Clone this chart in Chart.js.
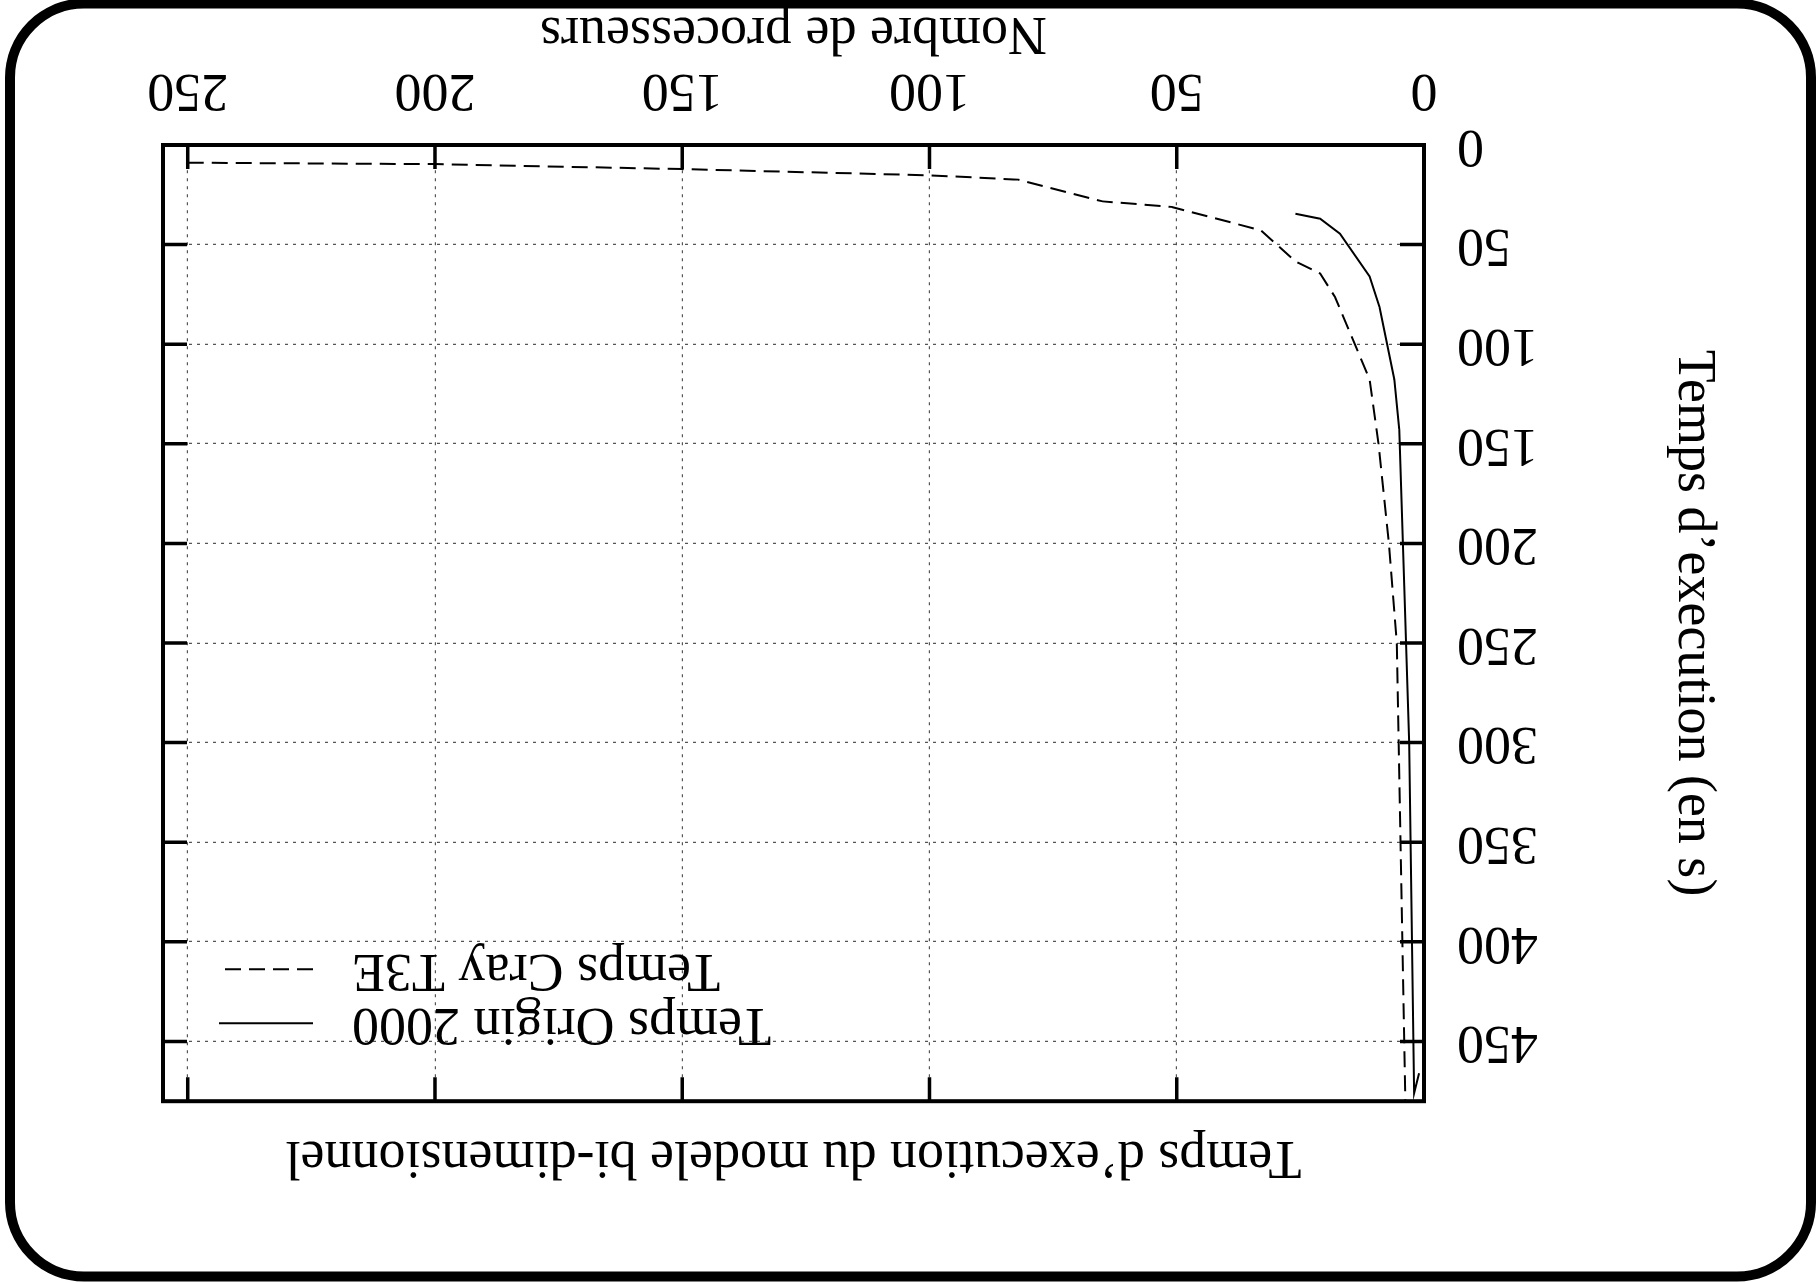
<!DOCTYPE html>
<html>
<head>
<meta charset="utf-8">
<title>Temps d'execution</title>
<script src="https://cdn.jsdelivr.net/npm/chart.js"></script>
<style>
    html, body { margin: 0; padding: 0; background: #fff; overflow: hidden; }
    /* the original figure is printed upside down */
    #wrap { width: 1817px; height: 1283px; transform: rotate(180deg); }
</style>
</head>
<body>
<div id="wrap"><canvas id="myChart" width="1817" height="1283"></canvas></div>
<script>
// values
const crayLabel = "Temps Cray T3E"
const crayProcs = [250, 200, 150, 100, 82, 65, 51, 33, 26, 21, 18, 11, 9.2, 7.1, 5.5, 3]
const crayTimes = [8.9, 9.6, 12.1, 15.2, 17.4, 28.3, 31.1, 42.8, 58.4, 64.5, 76.3, 117.7, 150, 200, 250, 583]

const originLabel = "Temps Origin 2000"
const originProcs = [26, 21, 17, 11, 9, 6, 5, 4, 3, 2, 1]
const originTimes = [34.5, 37.0, 44.5, 66, 81.3, 117.7, 143, 221, 300, 476, 466]

const xTicksStep = 50
const yTicksStep = 50

const titleText = "Temps d\u2019execution du modele bi-dimensionnel"
const xTitle = "Nombre de processeurs"
const yTitle = "Temps d\u2019execution (en s)"

const FONT = "'Liberation Serif', 'Times New Roman', serif"

const toPoints = (xs, ys) => xs.map((x, i) => ({ x: x, y: ys[i] }))

// rounded box around the whole page
const paperFrame = {
    id: 'paperFrame',
    beforeDraw(chart) {
        const ctx = chart.ctx
        ctx.save()
        ctx.fillStyle = '#fff'
        ctx.fillRect(0, 0, chart.width, chart.height)
        ctx.lineWidth = 10
        ctx.strokeStyle = '#000'
        ctx.beginPath()
        ctx.roundRect(6, 6.5, 1801, 1273, 74)
        ctx.stroke()
        ctx.restore()
    }
}

// gnuplot style border with inward ticks on the four sides
const plotBorder = {
    id: 'plotBorder',
    afterDatasetsDraw(chart) {
        const { ctx, chartArea: a, scales } = chart
        const len = 24
        ctx.save()
        ctx.strokeStyle = '#000'
        ctx.lineWidth = 3.5
        ctx.setLineDash([])
        ctx.beginPath()
        scales.x.ticks.forEach(t => {
            const px = scales.x.getPixelForValue(t.value)
            ctx.moveTo(px, a.bottom); ctx.lineTo(px, a.bottom - len)
            ctx.moveTo(px, a.top); ctx.lineTo(px, a.top + len)
        })
        scales.y.ticks.forEach(t => {
            const py = scales.y.getPixelForValue(t.value)
            ctx.moveTo(a.left, py); ctx.lineTo(a.left + len, py)
            ctx.moveTo(a.right, py); ctx.lineTo(a.right - len, py)
        })
        ctx.stroke()
        ctx.lineWidth = 4
        ctx.strokeRect(a.left, a.top, a.right - a.left, a.bottom - a.top)
        ctx.restore()
    }
}

// key in the upper right corner, text first then sample line
const gnuKey = {
    id: 'gnuKey',
    afterDraw(chart) {
        const { ctx, chartArea: a } = chart
        ctx.save()
        ctx.font = "54px " + FONT
        ctx.textAlign = 'right'
        ctx.textBaseline = 'middle'
        ctx.fillStyle = '#000'
        chart.data.datasets.forEach((ds, i) => {
            const y = a.top + 78 + i * 54
            ctx.fillText(ds.label, a.right - 189, y)
            ctx.strokeStyle = ds.borderColor
            ctx.lineWidth = ds.borderWidth
            ctx.setLineDash(ds.borderDash || [])
            ctx.beginPath()
            ctx.moveTo(a.right - 150, y)
            ctx.lineTo(a.right - 56, y)
            ctx.stroke()
        })
        ctx.restore()
    }
}

Chart.defaults.font.family = FONT
Chart.defaults.font.size = 54
Chart.defaults.color = '#000'

const data = {
    datasets: [{
        label: originLabel,
        data: toPoints(originProcs, originTimes),
        borderColor: '#000',
        borderWidth: 2,
        pointRadius: 0,
        fill: false,
        tension: 0
    }, {
        label: crayLabel,
        data: toPoints(crayProcs, crayTimes),
        borderColor: '#000',
        borderWidth: 2,
        borderDash: [16, 8],
        pointRadius: 0,
        fill: false,
        tension: 0
    }]
}

const gridOpts = {
    color: '#555',
    lineWidth: 1.2,
    drawTicks: false
}

const config = {
    type: 'line',
    data: data,
    options: {
        responsive: false,
        animation: false,
        layout: { padding: { left: 0, right: 163, top: 0, bottom: 0 } },
        plugins: {
            legend: { display: false },
            tooltip: { enabled: false },
            title: {
                display: true,
                text: titleText,
                fullSize: false,
                font: { size: 54, weight: 'normal' },
                padding: { top: 94, bottom: 23 }
            }
        },
        scales: {
            x: {
                type: 'linear',
                min: 0,
                max: 255,
                grid: gridOpts,
                border: { display: false, dash: [3, 5] },
                ticks: { stepSize: xTicksStep, includeBounds: false, padding: 23, maxRotation: 0 },
                title: { display: true, text: xTitle, font: { size: 54 }, padding: { top: 0, bottom: 0 } },
                afterFit(scale) { scale.height = 145 }
            },
            y: {
                type: 'linear',
                min: 0,
                max: 480,
                grid: gridOpts,
                border: { display: false, dash: [3, 5] },
                ticks: { stepSize: yTicksStep, includeBounds: false, padding: 33 },
                title: { display: true, text: yTitle, font: { size: 54 }, padding: { top: 91, bottom: 0 } },
                afterFit(scale) { scale.width = 393 }
            }
        }
    },
    plugins: [paperFrame, plotBorder, gnuKey]
}

new Chart(document.querySelector("#myChart"), config)
</script>
</body>
</html>
